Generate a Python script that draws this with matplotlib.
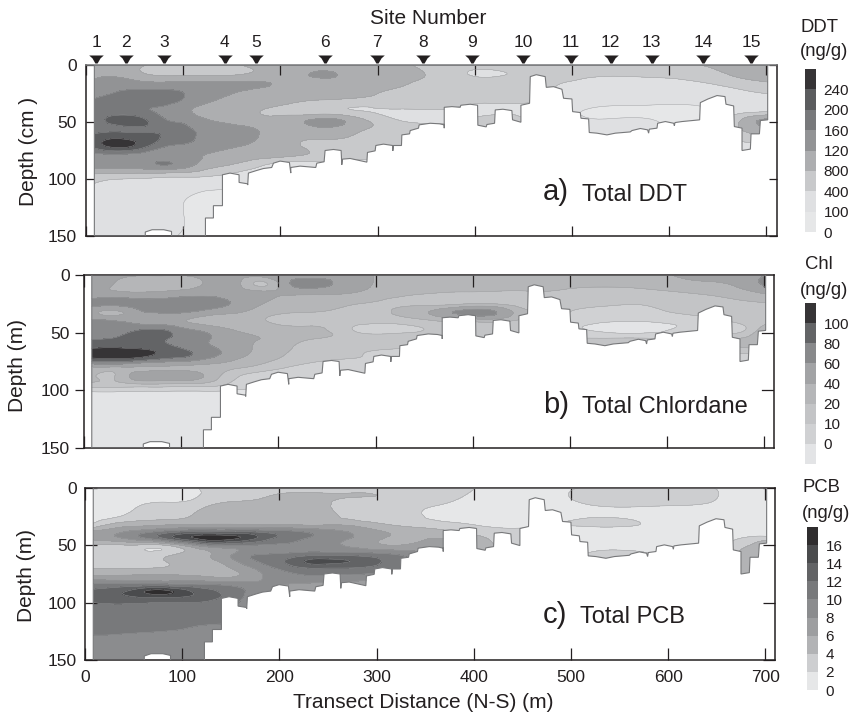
import matplotlib
matplotlib.use('Agg')
import matplotlib.pyplot as plt
from matplotlib.patches import Polygon
from matplotlib.tri import Triangulation, UniformTriRefiner
import numpy as np

plt.rcParams['font.family'] = ['Liberation Sans', 'DejaVu Sans']

W, H = 851, 716

# grid the sections are sampled on (distance m, depth m)
dist = [8, 30, 55, 80, 105, 130, 155, 180, 205, 240, 280, 320, 365, 410, 460, 520, 580, 640, 680, 703]
depth_ab = [0, 8, 16, 24, 32, 40, 48, 56, 64, 72, 80, 88, 96, 104, 125, 150]
depth_c = [0, 8, 16, 24, 32, 38, 44, 50, 58, 64, 70, 78, 84, 90, 96, 104, 125, 150]

# concentrations, in colour band units (band n runs from n to n+1)
ddt = [
    [3.5,3.5,3.2,2.6,2.6,2.6,2.9,3.4,3.5,3.5,3.5,3.2,2.7,2.7,2.6,2.6,2.6,3.1,3.6,3.7],
    [3.6,3.8,3.2,2.8,2.8,2.8,2.9,3.3,3.6,4.1,3.6,3.2,2.7,1.8,2.4,2.2,2.2,2.6,3.4,3.6],
    [4.3,4.5,4.3,4.2,4.3,4.2,4.2,4.1,3.8,3.7,3.6,3.2,2.6,2.6,2.3,1.7,1.7,2.0,2.6,2.9],
    [4.5,5.0,5.2,5.2,4.9,4.4,4.0,3.7,3.6,3.5,3.3,2.8,2.6,2.6,2.2,1.6,1.6,1.5,1.9,2.1],
    [5.2,5.4,5.4,5.3,4.7,4.0,3.7,3.5,3.3,2.8,2.6,2.5,2.4,2.1,2.0,1.5,1.3,1.2,1.5,1.6],
    [5.5,5.5,5.2,4.8,4.1,3.5,3.2,3.0,2.7,2.3,2.0,1.9,1.9,1.8,1.8,0.85,0.7,0.9,1.6,1.8],
    [5.6,6.3,6.3,5.1,4.6,3.9,3.6,3.3,3.4,4.2,3.3,2.0,1.7,2.2,1.9,1.05,1.05,0.9,3.4,4.2],
    [5.7,5.8,5.9,5.7,5.1,4.6,4.2,3.9,3.5,3.8,3.2,2.6,2.3,2.2,2.0,1.3,1.3,1.2,3.3,3.5],
    [6.3,6.9,6.5,5.9,5.2,4.7,4.4,3.9,3.3,3.1,2.8,2.3,2.1,2.1,2.0,1.3,1.3,1.2,2.5,2.5],
    [6.1,7.1,6.4,5.0,4.7,4.4,4.0,3.7,3.3,2.8,2.5,2.1,2.0,2.0,2.0,1.3,1.3,1.2,1.5,1.5],
    [4.7,4.6,4.6,4.5,4.3,3.8,3.5,3.3,3.1,2.7,2.3,2.0,1.5,1.5,1.5,1.5,1.5,1.5,1.5,1.5],
    [4.3,4.3,4.5,5.0,4.3,3.3,2.8,2.1,1.5,1.5,1.5,1.5,1.5,1.5,1.5,1.5,1.5,1.5,1.5,1.5],
    [2.9,2.8,2.7,2.6,2.5,2.2,1.8,1.5,1.5,1.5,1.5,1.5,1.5,1.5,1.5,1.5,1.5,1.5,1.5,1.5],
    [2.0,1.7,1.6,1.5,1.4,1.3,1.2,1.2,1.2,1.2,1.2,1.2,1.2,1.2,1.2,1.2,1.2,1.2,1.2,1.2],
    [1.5,1.5,1.5,1.4,0.9,0.7,0.7,0.7,0.7,0.7,0.7,0.7,0.7,0.7,0.7,0.7,0.7,0.7,0.7,0.7],
    [1.5,1.5,1.5,1.3,0.8,0.7,0.7,0.7,0.7,0.7,0.7,0.7,0.7,0.7,0.7,0.7,0.7,0.7,0.7,0.7],
]
chl = [
    [4.3,4.2,4.1,4.1,4.1,4.5,4.5,4.5,4.5,4.5,4.3,3.6,3.5,3.5,3.5,3.5,3.7,4.3,4.6,5.0],
    [4.5,4.0,3.4,3.4,3.4,4.4,4.5,2.8,4.4,5.3,4.4,3.6,3.4,3.3,3.3,3.2,3.4,3.8,4.4,5.3],
    [4.4,4.3,4.2,4.3,4.6,4.8,4.75,4.4,4.2,4.2,3.9,3.3,2.9,2.8,2.8,2.6,2.6,3.1,3.6,4.1],
    [5.3,5.4,5.3,5.4,5.4,5.3,4.9,4.2,3.5,3.3,3.1,2.8,2.4,2.8,2.2,2.2,2.1,2.6,2.9,3.0],
    [4.4,3.8,4.7,5.2,5.1,4.6,4.2,3.5,3.1,3.0,2.7,3.1,4.4,5.5,3.0,1.8,1.8,2.3,2.6,2.8],
    [5.2,5.1,4.6,4.4,4.0,3.5,3.3,3.1,2.8,2.6,2.4,2.3,3.0,3.3,2.5,1.3,1.1,1.7,2.3,2.6],
    [5.6,5.7,6.0,6.1,5.3,4.7,4.0,3.6,3.4,3.3,1.9,1.8,2.2,2.7,2.4,1.0,0.6,1.5,2.0,4.3],
    [6.0,6.1,6.3,6.1,5.6,5.0,4.3,4.0,3.6,2.9,2.7,2.4,2.1,2.5,2.4,2.2,2.2,2.0,3.3,3.6],
    [7.1,7.2,7.0,6.6,5.9,5.2,4.5,3.8,3.2,2.5,2.2,2.0,2.0,2.2,2.2,2.2,2.2,2.0,2.8,2.8],
    [7.0,7.1,6.9,6.2,5.8,5.0,4.2,3.5,2.9,2.2,2.0,1.8,1.8,2.0,2.0,2.0,2.0,1.8,1.4,1.4],
    [3.9,3.9,3.9,3.9,3.8,3.6,3.2,2.7,2.1,1.6,1.5,1.5,1.5,1.5,1.5,1.5,1.5,1.5,1.4,1.4],
    [3.2,2.9,4.5,4.6,4.6,3.6,2.2,1.5,1.4,1.3,1.3,1.3,1.3,1.3,1.3,1.3,1.3,1.3,1.3,1.3],
    [2.4,2.4,2.4,2.4,2.3,2.2,1.5,1.2,1.2,1.2,1.2,1.2,1.2,1.2,1.2,1.2,1.2,1.2,1.2,1.2],
    [0.5,0.5,0.5,0.5,0.5,0.5,0.5,0.5,0.5,0.5,0.5,0.5,0.5,0.5,0.5,0.5,0.5,0.5,0.5,0.5],
    [0.5,0.5,0.5,0.5,0.5,0.5,0.5,0.5,0.5,0.5,0.5,0.5,0.5,0.5,0.5,0.5,0.5,0.5,0.5,0.5],
    [0.5,0.5,0.5,0.5,0.5,0.5,0.5,0.5,0.5,0.5,0.5,0.5,0.5,0.5,0.5,0.5,0.5,0.5,0.5,0.5],
]
pcb = [
    [0.4,0.4,0.4,0.4,0.7,1.3,1.4,1.5,1.5,1.5,1.5,1.5,1.5,0.9,0.7,1.1,1.4,1.1,0.6,0.6],
    [0.4,0.4,0.5,0.6,0.7,1.4,1.6,1.9,2.2,2.2,2.0,1.9,1.4,0.7,0.5,1.3,1.6,1.2,0.5,0.5],
    [0.5,0.5,1.0,1.3,1.5,2.1,2.5,2.6,2.5,2.3,1.3,1.3,0.9,0.6,0.4,0.9,1.0,0.8,0.4,0.4],
    [0.6,0.8,1.4,1.6,1.9,2.4,2.6,2.7,2.7,2.6,1.4,1.3,0.7,0.6,0.5,0.8,0.7,0.4,0.4,0.4],
    [1.2,2.3,2.7,2.9,3.0,3.1,3.1,3.0,3.0,2.9,2.7,1.9,1.4,0.9,0.8,1.2,0.9,0.4,0.4,0.4],
    [3.2,3.6,4.4,5.2,5.9,6.0,6.0,5.7,5.3,4.6,3.7,2.8,2.3,1.5,1.2,0.5,0.5,0.5,0.6,0.7],
    [3.3,3.7,4.6,5.9,7.6,8.6,8.1,6.7,5.6,4.7,3.8,2.8,3.0,2.1,1.1,0.5,0.5,0.5,1.1,1.4],
    [1.8,1.8,1.85,1.85,3.4,5.0,5.0,4.9,4.8,4.4,3.7,3.0,3.5,2.4,1.0,0.5,0.5,0.5,1.8,3.2],
    [1.5,1.5,1.5,1.6,2.5,3.0,4.2,5.0,5.2,5.7,5.6,5.0,3.8,2.6,1.0,1.2,1.1,0.5,2.4,2.5],
    [1.5,1.5,1.6,1.9,2.6,2.8,3.9,5.1,6.0,7.3,6.8,5.5,3.5,2.5,1.0,1.2,1.1,0.5,2.3,2.3],
    [2.0,2.0,2.0,2.1,2.3,2.4,3.2,4.3,5.3,6.0,5.9,5.2,3.5,2.5,1.0,1.0,1.0,0.5,2.2,2.2],
    [3.4,3.4,3.4,3.4,3.3,3.1,3.1,3.9,4.5,4.8,4.6,4.0,3.0,2.0,1.0,1.0,1.0,0.5,2.2,2.2],
    [5.2,5.2,5.2,5.2,5.1,4.9,4.6,4.2,4.0,3.8,3.5,3.0,3.0,2.0,1.0,1.0,1.0,0.5,2.2,2.2],
    [6.2,6.6,7.6,8.3,7.2,6.2,5.3,4.6,3.9,3.5,3.0,3.0,3.0,2.0,1.0,1.0,1.0,0.5,2.2,2.2],
    [6.5,6.6,6.8,6.9,6.7,6.2,5.3,4.4,3.8,3.5,3.0,3.0,3.0,2.0,1.0,1.0,1.0,0.5,2.2,2.2],
    [5.6,5.8,5.8,5.8,5.7,5.6,5.0,4.4,3.8,3.5,3.0,3.0,3.0,2.0,1.0,1.0,1.0,0.5,2.2,2.2],
    [5.1,5.1,5.05,5.0,4.9,4.8,4.8,4.4,3.8,3.5,3.0,3.0,3.0,2.0,1.0,1.0,1.0,0.5,2.2,2.2],
    [4.3,4.3,4.3,4.3,4.3,4.3,4.3,4.3,3.8,3.5,3.0,3.0,3.0,2.0,1.0,1.0,1.0,0.5,2.2,2.2],
]

# sea bed profile, read from south to north
bed_x = [701.4,693.9,692.9,684.3,683.6,675,675,667.1,666.4,658.5,657.5,649.3,640,632.1,631.4,613.3,606,605.4,604.7,596.1,
         588.2,587.5,579.6,578.9,577.9,570.4,561.8,560,544.6,536,525.7,517.8,517.2,509.3,508.6,500.7,500,491.4,489.7,481.1,
         473.6,472.5,463.3,457.1,456.4,447.5,447.5,438.9,438.2,429,421.1,420.4,412.5,411.8,403.2,402.9,395.3,385.7,385,376.5,
         368.6,368.6,368.6,363.8,354.2,342.8,342.1,333.6,332.9,325,324.6,316.4,315.7,315.4,306.1,298.2,297.5,289.6,289,271.8,
         263.9,263.2,262.5,254.6,246,245,237.5,236.4,220.3,210.7,210.7,209.3,199.7,192.9,191.1,182.6,175.7,167.1,166.4,166.1,
         157.5,157.5,148.2,140.4,140.4,131.1,131.1,122.9,122.9]
bed_z = [48.1,48.7,60.4,60.4,73.8,75,55.4,54,35.9,34.4,27.7,26.8,29.8,33,48.1,49.6,50.5,53.4,51.1,49.6,
         51.1,55.4,56.3,59.8,56.9,55.7,57.5,58.7,59.8,61.3,59.8,59.2,47.3,46.7,41.7,40.9,29.8,29.2,21.3,19,
         19.6,10.2,8.5,10.2,33.6,35.3,50.2,48.1,40,38.8,39.4,51.1,52.2,54.3,52.8,35.3,34.4,35.3,37.1,36.5,
         37.1,55.4,52.5,51.6,51.1,52.5,55.4,57.5,60.4,61.3,70.6,70.6,75.3,70.6,69.4,70.6,75.3,76.7,85.2,82,
         82.6,87.5,75,74.1,75,84.9,86.1,89.9,88.7,89.9,94.8,85.5,84.3,86.1,89.9,90.8,92.5,94.8,105.3,104.2,
         103,96.3,94.8,96.3,123.4,123.4,134.2,134.2,150]
# white lobe on the bottom edge
lobe_x = [88, 88, 80, 68, 61, 61]
lobe_z = [150, 146, 144.5, 144.5, 146.5, 150]

site_x = [10.3, 41.2, 80.3, 142.8, 175.4, 246, 299, 347, 397, 450, 499, 540, 582, 635, 684.6]
site_names = [str(i) for i in range(1, 16)]

ddt_colors = ['#e6e7e8', '#dfe0e2', '#c8c9cb', '#adaeb0', '#929395', '#78797b', '#5b5c5e', '#363436']
chl_colors = ['#e3e4e6', '#d0d1d3', '#c3c4c6', '#b5b6b8', '#a2a3a5', '#88898b', '#636466', '#363436']
pcb_colors = ['#e6e7e8', '#cdced0', '#b2b3b5', '#9d9ea0', '#8b8c8e', '#78797b', '#626365', '#4a4b4d', '#2f2d2e']

ddt_ticks = [0, 1, 2, 3, 4, 5, 6, 7]
ddt_labels = ['0', '100', '400', '800', '120', '160', '200', '240']
chl_ticks = [1, 2, 3, 4, 5, 6, 7]
chl_labels = ['0', '10', '20', '40', '60', '80', '100']
pcb_ticks = [0, 1, 2, 3, 4, 5, 6, 7, 8]
pcb_labels = ['0', '2', '4', '6', '8', '10', '12', '14', '16']

xticks = [0, 100, 200, 300, 400, 500, 600, 700]
yticks = [0, 50, 100, 150]
TC = '#231f20'
site_marker = [(-1, .55), (1, .55), (.55, .15), (.15, -.55), (-.15, -.55), (-.55, .15)]

fig = plt.figure(figsize=(W / 100, H / 100), dpi=100)


def box(left, top, right, bottom):
    return [left / W, 1 - bottom / H, (right - left) / W, (bottom - top) / H]


def ftext(x, y, s, size, ha='left', va='center', **kw):
    fig.text(x / W, 1 - y / H, s, fontsize=size, ha=ha, va=va, color=TC, **kw)


def section(rect, xmax, x0, depth, values, colors):
    ax = fig.add_axes(rect)
    levels = np.arange(len(colors) + 1)
    # smooth contours with matplotlib's own triangular refiner
    xx, zz = np.meshgrid(dist, depth)
    tri = Triangulation(xx.ravel(), zz.ravel())
    tri_fine, v_fine = UniformTriRefiner(tri).refine_field(np.array(values).ravel(), subdiv=3)
    v_fine = np.clip(v_fine, 0.01, len(colors) - 0.01)
    cs = ax.tricontourf(tri_fine, v_fine, levels=levels, colors=colors)
    lines = ax.tricontour(tri_fine, v_fine, levels=levels[1:-1], colors='#9b9c9e', linewidths=0.3)
    px = [x0, 701.4] + bed_x + lobe_x + [x0]
    pz = [0, 0] + bed_z + lobe_z + [150]
    outline = Polygon(np.column_stack([px, pz]), closed=True, fc='none', ec='#77787a', lw=0.8,
                      transform=ax.transData, zorder=3)
    ax.add_patch(outline)
    cs.set_clip_path(outline)
    lines.set_clip_path(outline)
    ax.set_xlim(0, xmax)
    ax.set_ylim(150, 0)
    ax.set_xticks(xticks)
    ax.set_yticks(yticks)
    for s in ax.spines.values():
        s.set_linewidth(1.1)
        s.set_color(TC)
    ax.tick_params(labelsize=12.5, labelcolor=TC, color=TC, width=0.9)
    return ax, cs


def bar(rect, cs, ticks, labels):
    cax = fig.add_axes(rect)
    cb = fig.colorbar(cs, cax=cax, ticks=ticks)
    cb.set_ticklabels(labels)
    cb.outline.set_visible(False)
    cax.tick_params(length=0, pad=5.5, labelsize=11, labelcolor=TC)


# a) DDT
ax_a, cs_a = section(box(86, 65, 777, 236), 711, 8.6, depth_ab, ddt, ddt_colors)
ax_a.tick_params(axis='both', direction='in')
ax_a.tick_params(axis='x', top=True, labelbottom=False, length=7)
ax_a.tick_params(axis='y', right=True, length=6, pad=6.5)
ax_a.spines['top'].set_color('#77787a')
ax_a.plot(site_x, [-5.7] * len(site_x), marker=site_marker, ls='none', color='#231f20', ms=10.5, mec='none', clip_on=False)
for sx, name in zip(site_x, site_names):
    ax_a.text(sx, -20, name, ha='center', va='center', fontsize=12.5, color=TC)
bar(box(805, 69, 816, 232), cs_a, ddt_ticks, ddt_labels)

# b) chlordane
ax_b, cs_b = section(box(84, 275, 774, 448), 710, 8, depth_ab, chl, chl_colors)
ax_b.tick_params(axis='x', direction='in', top=True, labelbottom=False, length=8.5)
ax_b.tick_params(axis='y', direction='out', length=6.5, pad=3.5)
for v in [50, 100]:
    ax_b.plot([1 - 12 / 690, 1], [v, v], color=TC, lw=0.9, transform=ax_b.get_yaxis_transform())
ax_b.set_ylim(150, 0)
bar(box(805, 303, 816, 464), cs_b, chl_ticks, chl_labels)

# c) PCB
ax_c, cs_c = section(box(85, 488, 775, 660), 710, 8.5, depth_c, pcb, pcb_colors)
ax_c.tick_params(axis='x', direction='in', top=True, length=8.5, pad=7)
ax_c.tick_params(axis='y', direction='in', right=True, length=8.5, pad=6)
bar(box(807, 527, 818, 690), cs_c, pcb_ticks, pcb_labels)

ftext(428, 18, 'Site Number', 15, ha='center')
ftext(423, 703, 'Transect Distance (N-S) (m)', 15, ha='center')
ftext(28, 151, 'Depth (cm )', 15, ha='center', rotation=90)
ftext(18, 365, 'Depth (m)', 15, ha='center', rotation=90)
ftext(27, 575, 'Depth (m)', 15, ha='center', rotation=90)

ftext(800, 28, 'DDT', 13.3)
ftext(800, 52, '(ng/g)', 13.3)
ftext(805, 265, 'Chl', 13.3)
ftext(800, 290, '(ng/g)', 13.3)
ftext(802, 488, 'PCB', 13.3)
ftext(802, 513, '(ng/g)', 13.3)

ftext(543, 200, 'a)', 21, va='baseline')
ftext(582, 201, 'Total DDT', 17, va='baseline')
ftext(543, 413, 'b)', 21, va='baseline')
ftext(582, 413, 'Total Chlordane', 17, va='baseline')
ftext(543, 623, 'c)', 21, va='baseline')
ftext(580, 623, 'Total PCB', 17, va='baseline')

fig.savefig('out.png', dpi=100)
